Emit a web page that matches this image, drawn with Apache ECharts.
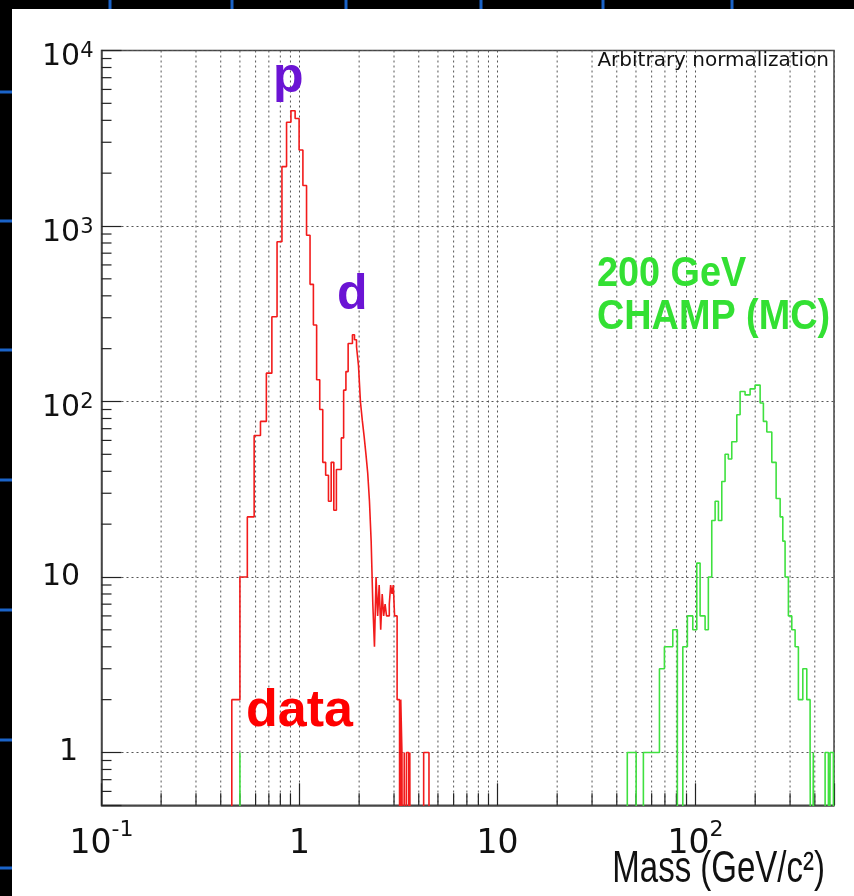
<!DOCTYPE html>
<html>
<head>
<meta charset="utf-8">
<title>Mass spectrum: data vs 200 GeV CHAMP (MC)</title>
<script src="https://cdn.jsdelivr.net/npm/echarts@6.0.0/dist/echarts.min.js"></script>
<style>
html,body{margin:0;padding:0;background:#ffffff;}
#chart{width:854px;height:896px;}
</style>
</head>
<body>
<div id="chart"></div>
<script>
// ---------------- data ----------------
// measured data histogram: uniform bins of width 0.045 GeV starting at 0.455 GeV
const dataBinLow = 0.455;
const dataBinWidth = 0.045;
const dataCounts = [
  2, 10, 22, 64, 77, 145, 304, 814, 2180, 3900,
  4540, 4100, 2710, 1700, 885, 465, 273, 133, 90, 45,
  38, 27, 45, 24, 41, 41, 62, 116, 148, 214,
  214, 240, 225, 205, 160, 100, 78, 63, 50, 39,
  27, 16, 7, 4, 10, 6, 9, 5, 8, 6,
  7, 6, 6, 7, 9, 8, 9, 6, 6, 2,
  2, 0, 2, 1, 0, 1, 0, 1, 1, 0,
  1, 0, 0, 0, 0, 0, 0, 0, 0, 0,
  0, 0, 0, 0, 1, 1, 1, 1, 1, 1
];

// 200 GeV CHAMP Monte Carlo histogram: bin edges (GeV/c^2) and contents
const mcEdges = [0.5, 0.502, 45.2, 50.1, 54.5, 65.7, 69.6, 76.7, 80.9, 86.2,
  90.9, 96.8, 101.4, 105.4, 111.7, 116.0, 120.7, 125.5, 130.4, 135.6,
  140.9, 146.4, 152.3, 161.5, 167.8, 177.8, 188.5, 199.8, 211.8, 220.0,
  228.9, 242.6, 255.1, 267.3, 275.7, 283.1, 294.2, 306.1, 318.1, 330.5,
  347.9, 364.4, 378.7, 386.0, 393.0, 401.0, 450.9, 468.6, 477.9, 496.6];
const mcCounts = [1, 0, 1, 0, 1, 3, 4, 5, 0, 4,
  6, 5, 12, 6, 5, 10, 21, 27, 21, 35,
  50, 47, 59, 84, 114, 109, 118, 124, 98, 77,
  67, 45, 28, 22, 16, 10, 6, 5, 4, 2,
  3, 2, 1, 0, 1, 0, 1, 0, 1];

// axes
const xRange = [0.1, 500];
const yRange = [0.5, 10000];
const xMinorTicks = [0.2, 0.3, 0.4, 0.5, 0.6, 0.7, 0.8, 0.9,
  2, 3, 4, 5, 6, 7, 8, 9,
  20, 30, 40, 50, 60, 70, 80, 90,
  200, 300, 400];
const yMinorTicks = [0.6, 0.7, 0.8, 0.9,
  2, 3, 4, 5, 6, 7, 8, 9,
  20, 30, 40, 50, 60, 70, 80, 90,
  200, 300, 400, 500, 600, 700, 800, 900,
  2000, 3000, 4000, 5000, 6000, 7000, 8000, 9000];
const xAxisTitle = 'Mass (GeV/c\u00B2)';
const noteText = 'Arbitrary normalization';
const mcLabel = ['200 GeV', 'CHAMP (MC)'];

// ---------------- build ----------------
const FONT = '"Liberation Sans", Arial, Helvetica, sans-serif';
const TICKFONT = '"DejaVu Sans", "Liberation Sans", sans-serif';
const FLOOR = 1e-3; // empty bins are drawn down below the frame (clipped)

const dataEdges = dataCounts.map((_, i) => dataBinLow + i * dataBinWidth)
  .concat([dataBinLow + dataCounts.length * dataBinWidth]);

function histPoints(edges, counts) {
  const pts = [[edges[0], FLOOR]];
  for (let i = 0; i < counts.length; i++) {
    pts.push([edges[i], counts[i] > 0 ? counts[i] : FLOOR]);
  }
  pts.push([edges[counts.length], FLOOR]);
  return pts;
}

function decade(v) {
  const l = Math.log10(v);
  const e = Math.round(l);
  return Math.abs(l - e) < 1e-6 ? e : null;
}

const chart = echarts.init(document.getElementById('chart'), null, {renderer: 'canvas'});

const option = {
  animation: false,
  backgroundColor: '#ffffff',
  title: {
    text: noteText,
    right: 25, top: 51, padding: 0,
    textStyle: {fontSize: 20, fontWeight: 'normal', color: '#111', fontFamily: TICKFONT}
  },
  grid: {
    left: 101.5, top: 50.5, width: 732.5, height: 754.8,
    outerBoundsMode: 'none',
    show: true, borderColor: '#444', borderWidth: 1.5, backgroundColor: 'transparent',
    containLabel: false
  },
  xAxis: {
    type: 'log', logBase: 10, min: xRange[0], max: xRange[1],
    axisLine: {show: true, lineStyle: {color: '#444', width: 1.5}},
    axisTick: {show: true, inside: true, length: 22, lineStyle: {color: '#222', width: 1.2}},
    splitLine: {show: true, lineStyle: {color: '#555', width: 1, type: [2, 3]}},
    axisLabel: {
      margin: 13.5, color: '#111', fontFamily: TICKFONT,
      formatter: function (v) {
        const e = decade(v);
        if (e === null || v >= xRange[1] * 0.999) return '';
        if (e === 0) return '{b|1}';
        if (e === 1) return '{b|10}';
        return '{b|10}{s|' + e + '}';
      },
      rich: {
        b: {fontSize: 33, fontFamily: TICKFONT, color: '#111', lineHeight: 42, verticalAlign: 'bottom'},
        s: {fontSize: 22, fontFamily: TICKFONT, color: '#111', lineHeight: 22, verticalAlign: 'top'}
      }
    }
  },
  yAxis: {
    type: 'log', logBase: 10, min: yRange[0], max: yRange[1],
    axisLine: {show: true, lineStyle: {color: '#444', width: 1.5}},
    axisTick: {show: true, inside: true, length: 20, lineStyle: {color: '#222', width: 1.2}},
    splitLine: {show: true, lineStyle: {color: '#555', width: 1, type: [2, 3]}},
    axisLabel: {
      margin: 59.5, align: 'left', color: '#111', fontFamily: TICKFONT,
      formatter: function (v) {
        const e = decade(v);
        if (e === null) return '';
        if (e === 0) return '{one|1}';
        if (e === 1) return '{m|10}';
        return '{b|10}{s|' + e + '}';
      },
      rich: {
        m: {fontSize: 30, fontFamily: TICKFONT, color: '#111', lineHeight: 34},
        one: {fontSize: 30, fontFamily: TICKFONT, color: '#111', lineHeight: 34, padding: [0, 0, 0, 17]},
        b: {fontSize: 30, fontFamily: TICKFONT, color: '#111', lineHeight: 44, verticalAlign: 'bottom'},
        s: {fontSize: 21, fontFamily: TICKFONT, color: '#111', lineHeight: 21, verticalAlign: 'top', padding: [13, 0, 0, 0]}
      }
    }
  },
  series: [
    {
      name: 'x minor grid', type: 'custom', silent: true, z: 1,
      data: xMinorTicks.map(v => [v, 1]),
      encode: {x: 0, y: 1},
      renderItem: function (params, api) {
        const cs = params.coordSys;
        const x = api.coord([api.value(0), 1])[0];
        const bottom = cs.y + cs.height;
        return {
          type: 'group',
          children: [
            {type: 'line', shape: {x1: x, y1: cs.y, x2: x, y2: bottom},
             style: {stroke: '#555', lineWidth: 1, lineDash: [2, 3]}},
            {type: 'line', shape: {x1: x, y1: bottom, x2: x, y2: bottom - 12},
             style: {stroke: '#222', lineWidth: 1.2}}
          ]
        };
      }
    },
    {
      name: 'y minor ticks', type: 'custom', silent: true, z: 1,
      data: yMinorTicks.map(v => [1, v]),
      encode: {x: 0, y: 1},
      renderItem: function (params, api) {
        const cs = params.coordSys;
        const y = api.coord([1, api.value(1)])[1];
        return {
          type: 'line', shape: {x1: cs.x, y1: y, x2: cs.x + 10, y2: y},
          style: {stroke: '#222', lineWidth: 1.2}
        };
      }
    },
    {
      name: 'data', type: 'line', step: 'end', showSymbol: false, symbol: 'none',
      clip: true, z: 3,
      lineStyle: {color: '#f21b1b', width: 1.6},
      data: histPoints(dataEdges, dataCounts)
    },
    {
      name: '200 GeV CHAMP (MC)', type: 'line', step: 'end', showSymbol: false, symbol: 'none',
      clip: true, z: 3,
      lineStyle: {color: '#3fe03f', width: 1.6},
      data: histPoints(mcEdges, mcCounts)
    }
  ],
  graphic: [
    // photographed slide border
    {type: 'rect', left: 0, top: 0, shape: {width: 12, height: 896}, style: {fill: '#000'}, z: 100},
    {type: 'rect', left: 0, top: 0, shape: {width: 854, height: 9}, style: {fill: '#000'}, z: 100},
    ...[92, 221, 350, 480, 610, 740, 868].map(y => ({
      type: 'rect', left: 0, top: y - 1.5, shape: {width: 12, height: 3}, style: {fill: '#1a63c8'}, z: 101
    })),
    ...[110, 232, 346, 481, 603, 732].map(x => ({
      type: 'rect', left: x - 1.5, top: 0, shape: {width: 3, height: 9}, style: {fill: '#1a63c8'}, z: 101
    })),
    // x axis title
    {type: 'text', x: 825, y: 848, scaleX: 0.75, z: 50,
     style: {text: xAxisTitle, fill: '#111', font: '44px ' + FONT, align: 'right', verticalAlign: 'top'}},
    // annotations
    {type: 'text', left: 273, top: 53, z: 50,
     style: {text: 'p', fill: '#6b14d4', font: 'bold 50px ' + FONT}},
    {type: 'text', left: 337, top: 270, z: 50,
     style: {text: 'd', fill: '#6b14d4', font: 'bold 50px ' + FONT}},
    {type: 'text', left: 246, top: 686, z: 50,
     style: {text: 'data', fill: '#ff0000', font: 'bold 52px ' + FONT}},
    {type: 'text', x: 597, y: 253, scaleX: 0.9, z: 50,
     style: {text: mcLabel[0], fill: '#33e033', font: 'bold 42px ' + FONT}},
    {type: 'text', x: 597, y: 296, scaleX: 0.9, z: 50,
     style: {text: mcLabel[1], fill: '#33e033', font: 'bold 42px ' + FONT}}
  ]
};

chart.setOption(option);
</script>
</body>
</html>
